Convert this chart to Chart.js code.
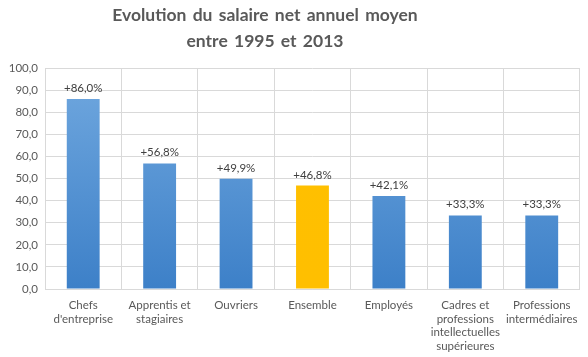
<!DOCTYPE html>
<html><head><meta charset="utf-8">
<script src="https://cdn.jsdelivr.net/npm/chart.js@4.4.1/dist/chart.umd.min.js"></script>
<style>
html,body{margin:0;padding:0;background:#fff;}
#wrap{position:relative;width:588px;height:357px;}
#title{position:absolute;left:0;width:530px;top:2px;text-align:center;font-family:Lato,sans-serif;font-weight:bold;font-size:17.5px;line-height:26px;color:#595959;word-spacing:2px;}
canvas{position:absolute;left:0;top:0;}
</style></head>
<body>
<div id="wrap">
<canvas id="c" width="588" height="357"></canvas>
<div id="title">Evolution du salaire net annuel moyen<br>entre 1995 et 2013</div>
</div>
<script>
const categories = [["Chefs","d'entreprise"],["Apprentis et","stagiaires"],"Ouvriers","Ensemble","Employés",["Cadres et","professions","intellectuelles","supérieures"],["Professions","intermédiaires"]];
const values = [86.0, 56.8, 49.9, 46.8, 42.1, 33.3, 33.3];
const highlightIndex = 3;

const labelPlugin = {
  id:'barLabels',
  afterDatasetsDraw(chart){
    const ctx = chart.ctx;
    const meta = chart.getDatasetMeta(0);
    ctx.save();
    ctx.font = '11.5px Lato, sans-serif';
    ctx.fillStyle = '#404040';
    ctx.textAlign = 'center';
    ctx.textBaseline = 'alphabetic';
    meta.data.forEach((bar,i)=>{
      const t = '+' + values[i].toFixed(1).replace('.',',') + '%';
      ctx.fillText(t, bar.x, bar.y - 7);
    });
    ctx.restore();
  }
};

function barColor(c){
  const chart = c.chart;
  const area = chart.chartArea;
  if(!area) return '#5b9bd5';
  const ctx = chart.ctx;
  if(c.dataIndex === highlightIndex){
    const g = ctx.createLinearGradient(0, area.top, 0, area.bottom);
    g.addColorStop(0,'#ffc000'); g.addColorStop(1,'#ffbf00');
    return g;
  }
  const g = ctx.createLinearGradient(0, area.top+30, 0, area.bottom);
  g.addColorStop(0,'#6aa3dc'); g.addColorStop(1,'#3d80c8');
  return g;
}

new Chart(document.getElementById('c'), {
  type:'bar',
  data:{labels:categories, datasets:[{data:values, backgroundColor:barColor, borderWidth:0, categoryPercentage:1, barPercentage:0.43}]},
  options:{
    responsive:false, animation:false,
    layout:{padding:{top:68,right:6,left:0,bottom:0}},
    plugins:{legend:{display:false}, title:{display:false}, tooltip:{enabled:false}},
    scales:{
      y:{min:0,max:100,
        ticks:{stepSize:10,color:'#595959',font:{family:'Lato',size:11.5},padding:7,
          callback:v=>v.toFixed(1).replace('.',',')},
        grid:{color:'#d9d9d9',drawTicks:false},
        border:{display:false},
        afterFit:s=>{s.width=45;}
      },
      x:{
        ticks:{color:'#595959',font:{family:'Lato',size:11.5,lineHeight:1.17},padding:10,maxRotation:0,autoSkip:false},
        grid:{color:'#d9d9d9',drawTicks:false,offset:true},
        border:{color:'#d9d9d9'},
        afterFit:s=>{s.height=68;}
      }
    }
  },
  plugins:[labelPlugin]
});
</script>
</body></html>
